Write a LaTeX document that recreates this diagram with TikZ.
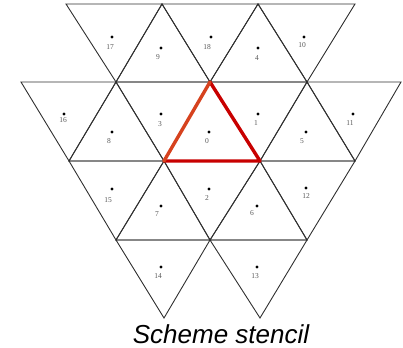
\documentclass[tikz,border=0pt]{standalone}
\usepackage{fontspec}
\setmainfont{Liberation Serif}
\newfontfamily\capfont{Liberation Sans}
\definecolor{redA}{HTML}{C80000}
\definecolor{redB}{HTML}{D6421E}
\definecolor{edgegray}{HTML}{303030}
\begin{document}
\begin{tikzpicture}[x=1pt,y=-1pt,
  tri/.style={draw=edgegray,line width=0.9pt,line join=miter},
  dotnode/.style={circle,fill=black,inner sep=0pt,minimum size=3.3pt},
  lab/.style={inner sep=0pt,font=\fontsize{7.5}{8}\selectfont,text=black!65},
  redline/.style={line width=3.4pt,line cap=round,line join=round}]
\useasboundingbox (0,0) rectangle (403,347);
% lattice vertices
\coordinate (A0) at (66,4);  \coordinate (A1) at (162,4);
\coordinate (A2) at (258,4); \coordinate (A3) at (355,4);
\coordinate (B0) at (21,82);  \coordinate (B1) at (116,82);
\coordinate (B2) at (210,82); \coordinate (B3) at (307,82);
\coordinate (B4) at (401,82);
\coordinate (C0) at (69,161);  \coordinate (C1) at (164,161);
\coordinate (C2) at (260,161); \coordinate (C3) at (355,161);
\coordinate (D0) at (116,240); \coordinate (D1) at (210,240);
\coordinate (D2) at (307,240);
\coordinate (E0) at (164,318); \coordinate (E1) at (260,318);
% triangles
\foreach \p/\q/\r in {A0/A1/B1, A1/B1/B2, A1/A2/B2, A2/B2/B3, A2/A3/B3,
  B0/B1/C0, B1/C0/C1, B1/B2/C1, B2/C1/C2, B2/B3/C2, B3/C2/C3, B3/B4/C3,
  C0/C1/D0, C1/D0/D1, C1/C2/D1, C2/D1/D2, C2/C3/D2, D0/D1/E0, D1/D2/E1}
  \draw[tri] (\p) -- (\q) -- (\r) -- cycle;
% red stencil triangle
\draw[redline,redA] (B2) -- (C2) -- (C1);
\draw[redline,redB] (C1) -- (B2);
% dots and labels
\foreach \n/\dx/\dy/\lx/\ly in {
  17/112/37/110/47, 9/161/48/158/57, 18/211/37/207/47, 4/258/48/257/58,
  10/304/37/302/45,
  16/64/114/63/120, 8/112/132/109/141, 3/161/114/160/124, 0/209/132/207/141,
  1/258/114/256/123, 5/306/132/302/141, 11/353/114/350/123,
  15/112/189/108/200, 7/161/206/157/214, 2/209/189/207/198,
  6/257/206/252/213, 12/306/188/306/196,
  14/161/267/158/276, 13/257/267/255/276}{
  \node[dotnode] (d\n) at (\dx,\dy) {};
  \node[lab] (l\n) at (\lx,\ly) {\n};
}
% caption
\node[anchor=base,inner sep=0pt,font=\capfont\itshape\fontsize{26}{30}\selectfont] (cap) at (221,343) {Scheme stencil};
\end{tikzpicture}
\end{document}
